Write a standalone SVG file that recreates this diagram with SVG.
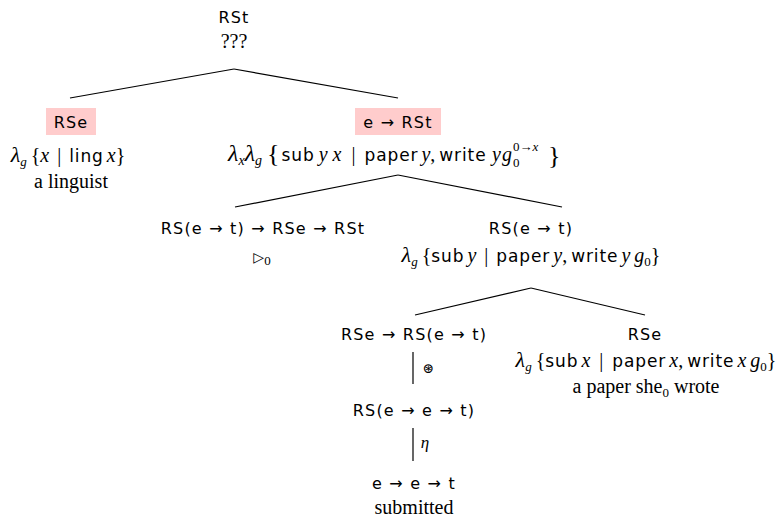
<svg xmlns="http://www.w3.org/2000/svg" width="783" height="521" viewBox="0 0 783 521">
<style>
.ty{font-family:"DejaVu Sans","Liberation Sans",sans-serif;font-size:16px;letter-spacing:1.2px;fill:#000;text-anchor:middle}
.sm{font-family:"Liberation Serif","DejaVu Serif",serif;font-size:20px;fill:#000;text-anchor:middle}
.st{text-anchor:start}
.i{font-style:italic}
.l{font-size:22px}
.sf{font-family:"DejaVu Sans","Liberation Sans",sans-serif;font-size:17px;font-style:normal;letter-spacing:0.9px}
.sub{font-size:13px}
.hl{fill:#ffcccc}
line{stroke:#000;stroke-width:1.2}
</style>
<g id="edges">
<line x1="234" y1="69" x2="70" y2="98"/>
<line x1="234" y1="69" x2="398" y2="98"/>
<line x1="398" y1="175" x2="235" y2="207"/>
<line x1="398" y1="175" x2="562" y2="207"/>
<line x1="531" y1="288" x2="415" y2="315"/>
<line x1="531" y1="288" x2="645" y2="315"/>
<line x1="413" y1="352" x2="413" y2="384"/>
<line x1="413" y1="428" x2="413" y2="461"/>
</g>
<g id="root">
<text class="ty" x="234" y="23">RSt</text>
<text class="sm" x="234" y="48">???</text>
</g>
<g id="linguist">
<rect class="hl" x="46" y="108" width="50" height="27"/>
<text class="ty" x="71" y="128">RSe</text>
<text class="sm" x="68" y="162"><tspan class="i l">λ</tspan><tspan class="i sub" dy="4">g</tspan><tspan dy="-4" dx="4">{</tspan><tspan class="i">x</tspan><tspan dx="8">|</tspan><tspan class="sf" dx="8">ling</tspan><tspan class="i" dx="3">x</tspan><tspan>}</tspan></text>
<text class="sm" x="71" y="188">a linguist</text>
</g>
<g id="vp">
<rect class="hl" x="355" y="108" width="86" height="27"/>
<text class="ty" x="398" y="128">e → RSt</text>
<text class="sm st" x="228" y="161"><tspan class="i" font-size="24">λ</tspan><tspan class="i" font-size="14" dy="4">x</tspan><tspan class="i" font-size="24" dy="-4">λ</tspan><tspan class="i" font-size="14" dy="4">g</tspan><tspan dy="-3" dx="5" font-size="26">{</tspan><tspan class="sf" dx="2" dy="-1">sub</tspan><tspan class="i" dx="4">y</tspan><tspan class="i" dx="5">x</tspan><tspan dx="10">|</tspan><tspan class="sf" dx="9">paper</tspan><tspan class="i" dx="3">y</tspan><tspan>,</tspan><tspan class="sf" dx="4">write</tspan></text>
<text class="sm st i" x="492" y="161">y</text>
<text class="sm st i" x="502" y="161">g</text>
<text class="sm st" x="513" y="167" style="font-size:13px">0</text>
<text class="sm st" x="513" y="151" style="font-size:13px">0→<tspan class="i">x</tspan></text>
<text class="sm st" x="548" y="164" style="font-size:26px">}</text>
</g>
<g id="op">
<text class="ty" x="263" y="234">RS(e → t) → RSe → RSt</text>
<text class="sm" x="262" y="262"><tspan font-size="14">▷</tspan><tspan class="sub" dy="3">0</tspan></text>
</g>
<g id="vp2">
<text class="ty" x="531" y="234">RS(e → t)</text>
<text class="sm" x="531" y="262"><tspan class="i l">λ</tspan><tspan class="i sub" dy="4">g</tspan><tspan dy="-4" dx="4">{</tspan><tspan class="sf">sub</tspan><tspan class="i" dx="3">y</tspan><tspan dx="8">|</tspan><tspan class="sf" dx="8">paper</tspan><tspan class="i" dx="3">y</tspan><tspan>,</tspan><tspan class="sf" dx="4">write</tspan><tspan class="i" dx="3">y</tspan><tspan class="i" dx="4">g</tspan><tspan class="sub" dy="4">0</tspan><tspan dy="-4">}</tspan></text>
</g>
<g id="lift">
<text class="ty" x="414" y="340">RSe → RS(e → t)</text>
<text class="sm" x="428" y="373" style="font-size:14px">⊛</text>
<text class="ty" x="414" y="416">RS(e → e → t)</text>
<text class="sm i" x="425" y="448" style="font-size:17px">η</text>
<text class="ty" x="414" y="489">e → e → t</text>
<text class="sm" x="414" y="514">submitted</text>
</g>
<g id="paper">
<text class="ty" x="645" y="340">RSe</text>
<text class="sm" x="646" y="367"><tspan class="i l">λ</tspan><tspan class="i sub" dy="4">g</tspan><tspan dy="-4" dx="4">{</tspan><tspan class="sf">sub</tspan><tspan class="i" dx="3">x</tspan><tspan dx="9">|</tspan><tspan class="sf" dx="9">paper</tspan><tspan class="i" dx="3">x</tspan><tspan>,</tspan><tspan class="sf" dx="4">write</tspan><tspan class="i" dx="3">x</tspan><tspan class="i" dx="4">g</tspan><tspan class="sub" dy="4">0</tspan><tspan dy="-4">}</tspan></text>
<text class="sm" x="646" y="393">a paper she<tspan class="sub" dy="4">0</tspan><tspan dy="-4"> wrote</tspan></text>
</g>
</svg>
